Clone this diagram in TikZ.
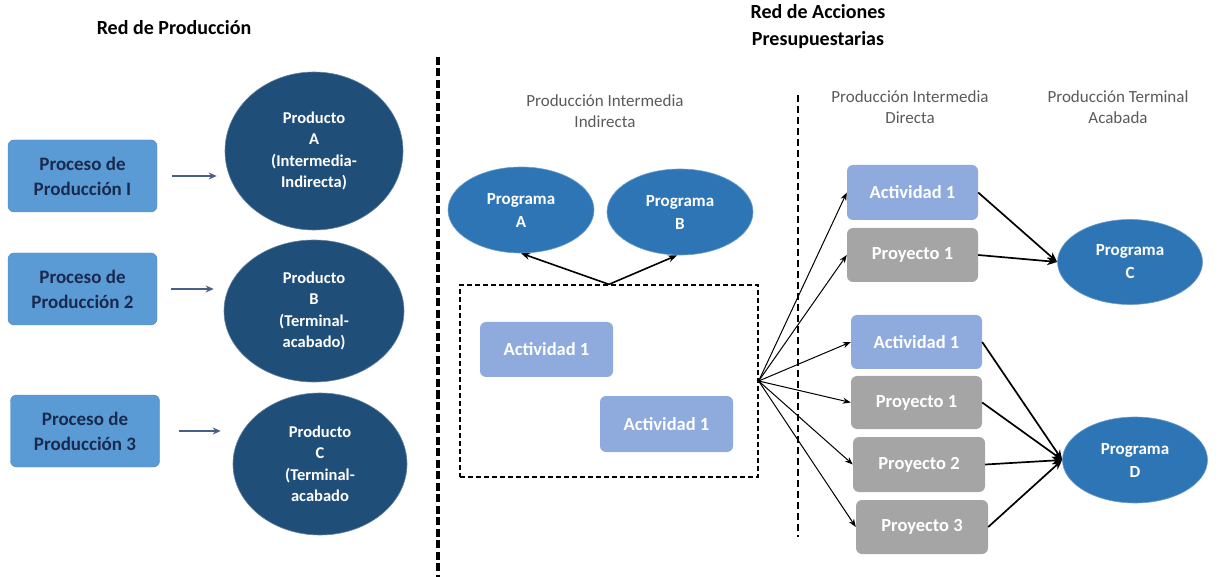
\documentclass[tikz,border=0pt]{standalone}
\usepackage{fontspec}
\setmainfont{Carlito}
\usetikzlibrary{arrows.meta,shapes.geometric}
\definecolor{procfill}{HTML}{5B9BD5}
\definecolor{proctext}{HTML}{1A2A4E}
\definecolor{darkell}{HTML}{1F4E79}
\definecolor{midell}{HTML}{2E75B6}
\definecolor{actfill}{HTML}{8FAADC}
\definecolor{proyfill}{HTML}{A5A5A5}
\definecolor{hdrgray}{HTML}{5A5A5A}
\definecolor{slate}{HTML}{4A5F85}
\tikzset{
  procbox/.style={rectangle, rounded corners=6pt, fill=procfill, draw=procfill!85!black, line width=0.4pt,
    minimum width=149pt, minimum height=72pt, inner sep=0pt, align=center, text=proctext,
    font=\fontsize{19}{25}\selectfont\bfseries},
  prodell/.style={ellipse, fill=darkell, draw=darkell!70!white, line width=0.6pt, inner sep=0pt, align=center,
    text=white, font=\fontsize{16.5}{21.5}\selectfont\bfseries},
  progell/.style={ellipse, fill=midell, draw=midell!70!white, line width=0.6pt, inner sep=0pt, align=center,
    minimum width=146pt, minimum height=86pt, text=white, font=\fontsize{17}{23}\selectfont\bfseries},
  actbox/.style={rectangle, rounded corners=6pt, fill=actfill, inner sep=0pt, minimum width=132pt,
    minimum height=55pt, text=white, font=\fontsize{18.5}{22}\selectfont\bfseries},
  proybox/.style={actbox, fill=proyfill},
  hdr/.style={align=center, text=hdrgray, font=\fontsize{17}{21}\selectfont},
  ttl/.style={align=center, text=black, font=\fontsize{20}{27}\selectfont\bfseries},
  leftarr/.style={draw=slate, line width=1.6pt, -{Stealth[length=8pt,width=7pt]}},
  fanarr/.style={draw=black, line width=1pt, -{Stealth[length=8pt,width=6pt]}},
  convarr/.style={draw=black, line width=1.7pt, -{Stealth[length=10pt,width=8pt]}}
}
\begin{document}
\begin{tikzpicture}[x=1pt,y=-1pt]
\useasboundingbox (0,0) rectangle (1224,577);
% titles
\node[ttl] (t1) at (174,28) {Red de Producción};
\node[ttl] (t2) at (818,27) {Red de Acciones\\Presupuestarias};
% separators
\coordinate (s1a) at (438,57);
\coordinate (s1b) at (438,577);
\draw[line width=3.6pt, dash pattern=on 8pt off 3.5pt] (s1a) -- (s1b);
\coordinate (s2a) at (798,95);
\coordinate (s2b) at (798,537);
\draw[line width=2.3pt, dash pattern=on 7pt off 4pt] (s2a) -- (s2b);
% left column
\node[procbox] (p1) at (82.5,176) {Proceso de\\Producción I};
\node[procbox] (p2) at (82.5,289) {Proceso de\\Producción 2};
\node[procbox] (p3) at (85,431) {Proceso de\\Producción 3};
\node[prodell, minimum width=178pt, minimum height=158pt] (eA) at (314,151) {Producto\\A\\(Intermedia-\\Indirecta)};
\node[prodell, minimum width=180pt, minimum height=142pt] (eB) at (314,311) {Producto\\B\\(Terminal-\\acabado)};
\node[prodell, minimum width=174pt, minimum height=142pt] (eC) at (320,464) {Producto\\C\\(Terminal-\\acabado};
\draw[leftarr] ([xshift=15pt]p1.east) -- ([xshift=-8pt]eA.west |- p1.east);
\draw[leftarr] ([xshift=14pt]p2.east) -- ([xshift=-10pt]eB.west |- p2.east);
\draw[leftarr] ([xshift=19pt]p3.east) -- ([xshift=-12pt]eC.west |- p3.east);
% middle
\node[hdr] (h1) at (605,111) {Producción Intermedia\\Indirecta};
\node[progell] (pA) at (521,210) {Programa\\A};
\node[progell] (pB) at (680,212) {Programa\\B};
\node[draw, line width=1.3pt, dash pattern=on 5pt off 3pt, minimum width=298pt, minimum height=192pt, inner sep=0pt] (dbox) at (609,381) {};
\node[actbox, minimum width=133pt] (a1) at (546.5,349.5) {Actividad 1};
\node[actbox, minimum width=133pt, minimum height=56pt] (a2) at (666.5,424) {Actividad 1};
\draw[line width=1.6pt, -{Stealth[length=9pt,width=7pt]}] (dbox.north) -- (pA.south);
\draw[line width=1.6pt, -{Stealth[length=9pt,width=7pt]}] (dbox.north) -- ([xshift=-3pt]pB.south);
% right
\node[hdr] (h2) at (910,107) {Producción Intermedia\\Directa};
\node[hdr] (h3) at (1118,107) {Producción Terminal\\Acabada};
\node[actbox, minimum width=131pt] (r1) at (912.5,192.5) {Actividad 1};
\node[proybox, minimum width=131pt, minimum height=54pt] (r2) at (912.5,255) {Proyecto 1};
\node[actbox, minimum width=131pt, minimum height=54pt] (r3) at (916.5,342) {Actividad 1};
\node[proybox, minimum width=131pt, minimum height=53pt] (r4) at (916.5,402.5) {Proyecto 1};
\node[proybox] (r5) at (919,464.5) {Proyecto 2};
\node[proybox, minimum width=132pt, minimum height=54pt] (r6) at (922,527) {Proyecto 3};
\node[progell, minimum width=145pt, minimum height=85pt] (pC) at (1130,262) {Programa\\C};
\node[progell, minimum width=145pt, minimum height=86pt] (pD) at (1135,460) {Programa\\D};
\foreach \r in {r1,r2,r3,r4,r5,r6} {
  \draw[fanarr] (dbox.east) -- (\r.west);
}
\draw[convarr] (r1.east) -- (pC.west);
\draw[convarr] (r2.east) -- (pC.west);
\foreach \r in {r3,r4,r5,r6} {
  \draw[convarr] (\r.east) -- (pD.west);
}
\end{tikzpicture}
\end{document}
